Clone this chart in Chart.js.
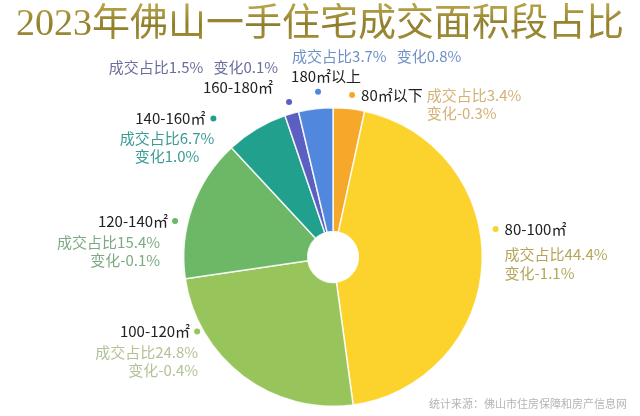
<!DOCTYPE html>
<html>
<head>
<meta charset="utf-8">
<script src="https://cdn.jsdelivr.net/npm/chart.js@4"></script>
<style>
  html, body { margin: 0; padding: 0; background: #ffffff; }
  #wrap { width: 640px; height: 416px; position: relative; }
</style>
</head>
<body>
<div id="wrap"><canvas id="pie-chart"></canvas></div>
<script>
// data
const titleText = '2023年佛山一手住宅成交面积段占比';
const sourceText = '统计来源：佛山市住房保障和房产信息网';
const areaLabels = ['80㎡以下', '80-100㎡', '100-120㎡', '120-140㎡', '140-160㎡', '160-180㎡', '180㎡以上'];
const shares = [3.4, 44.4, 24.8, 15.4, 6.7, 1.5, 3.7];
const changes = [-0.3, -1.1, -0.4, -0.1, 1.0, 0.1, 0.8];

const sliceColors = ['#f6a82a', '#fcd22d', '#98c45c', '#6cb866', '#22a08e', '#5b5fc2', '#5287de'];
const textColors = ['#d4b276', '#b5a55a', '#b4c298', '#7daa84', '#3a9c94', '#6a6f9e', '#6f90c6'];

// where each label sits relative to its slice (angle nudge in degrees, distance from centre)
const labelStyle = [
    { nudge: 0.6, dist: 163, mode: 'inlineRight' },
    { nudge: -12, dist: 165, mode: 'stackRight' },
    { nudge: 24.3, dist: 155, mode: 'stackLeft', nameGap: 7, dataGap: -1 },
    { nudge: -6.5, dist: 162, mode: 'stackLeft', nameGap: 7, dataGap: 15 },
    { nudge: -10, dist: 183, mode: 'stackLeftCentered', nameGap: 8, dataGap: -1 },
    { nudge: 0.2, dist: 161, mode: 'aboveLeft' },
    { nudge: 1.5, dist: 166, mode: 'aboveRight' }
];

function fmtShare(v) { return '成交占比' + v.toFixed(1) + '%'; }
function fmtChange(v) { return '变化' + v.toFixed(1) + '%'; }

const labelFont = '15px "Noto Sans CJK SC", "Noto Sans", sans-serif';

const labelPlugin = {
    id: 'pieLabels',
    afterDraw(chart) {
        const ctx = chart.ctx;
        const meta = chart.getDatasetMeta(0);
        ctx.save();

        // title
        ctx.font = '38px "Liberation Serif", "Noto Sans CJK SC", serif';
        ctx.textAlign = 'center';
        ctx.textBaseline = 'middle';
        const grad = ctx.createLinearGradient(0, 6, 0, 44);
        grad.addColorStop(0, '#b6a246');
        grad.addColorStop(0.5, '#8f7d2b');
        grad.addColorStop(1, '#a8943c');
        ctx.fillStyle = grad;
        ctx.fillText(titleText, 320, 25);

        ctx.font = labelFont;
        ctx.textBaseline = 'middle';
        meta.data.forEach((arc, i) => {
            const st = labelStyle[i];
            const mid = (arc.startAngle + arc.endAngle) / 2 + st.nudge * Math.PI / 180;
            const x = arc.x + Math.cos(mid) * st.dist;
            const y = arc.y + Math.sin(mid) * st.dist;

            ctx.fillStyle = sliceColors[i];
            ctx.beginPath();
            ctx.arc(x, y, 3, 0, Math.PI * 2);
            ctx.fill();

            const name = areaLabels[i];
            const l1 = fmtShare(shares[i]);
            const l2 = fmtChange(changes[i]);
            const col = textColors[i];

            if (st.mode === 'inlineRight') {
                ctx.textAlign = 'left';
                ctx.fillStyle = '#222';
                ctx.fillText(name, x + 9, y);
                const nx = x + 9 + ctx.measureText(name).width + 4;
                ctx.fillStyle = col;
                ctx.fillText(l1, nx, y);
                ctx.fillText(l2, nx, y + 18);
            } else if (st.mode === 'stackRight') {
                ctx.textAlign = 'left';
                ctx.fillStyle = '#222';
                ctx.fillText(name, x + 9, y);
                ctx.fillStyle = col;
                ctx.fillText(l1, x + 9, y + 25);
                ctx.fillText(l2, x + 9, y + 44);
            } else if (st.mode === 'stackLeft') {
                ctx.textAlign = 'right';
                ctx.fillStyle = '#222';
                ctx.fillText(name, x - st.nameGap, y);
                ctx.fillStyle = col;
                ctx.fillText(l1, x - st.dataGap, y + 21);
                ctx.fillText(l2, x - st.dataGap, y + 39);
            } else if (st.mode === 'stackLeftCentered') {
                ctx.textAlign = 'right';
                ctx.fillStyle = '#222';
                ctx.fillText(name, x - st.nameGap, y);
                ctx.fillStyle = col;
                ctx.fillText(l1, x - st.dataGap, y + 20);
                const w = ctx.measureText(l1).width;
                ctx.textAlign = 'center';
                ctx.fillText(l2, x - st.dataGap - w / 2, y + 38);
            } else if (st.mode === 'aboveLeft') {
                ctx.textAlign = 'right';
                ctx.fillStyle = '#222';
                ctx.fillText(name, x - 16, y - 15);
                ctx.fillStyle = col;
                ctx.fillText(l1 + '   ' + l2, x - 11, y - 35);
            } else if (st.mode === 'aboveRight') {
                ctx.textAlign = 'center';
                ctx.fillStyle = '#222';
                ctx.fillText(name, x + 8, y - 15);
                ctx.textAlign = 'left';
                ctx.fillStyle = col;
                ctx.fillText(l1 + '   ' + l2, x - 26, y - 35);
            }
        });

        // source note
        ctx.font = '11px "Noto Sans CJK SC", sans-serif';
        ctx.textAlign = 'right';
        ctx.fillStyle = '#b5b5b5';
        ctx.fillText(sourceText, 627, 404);
        ctx.restore();
    }
};

const config = {
    type: 'doughnut',
    data: {
        labels: areaLabels,
        datasets: [{
            data: shares,
            backgroundColor: sliceColors,
            borderColor: 'rgba(255,255,255,0.85)',
            borderWidth: 1.5
        }]
    },
    options: {
        responsive: true,
        maintainAspectRatio: false,
        animation: false,
        cutout: '17%',
        rotation: 0,
        layout: { padding: { top: 107, bottom: 9, left: 26, right: 0 } },
        plugins: {
            legend: { display: false },
            title: { display: false },
            tooltip: { enabled: false }
        }
    },
    plugins: [labelPlugin]
};

window.onload = function() {
    const ctx = document.getElementById('pie-chart').getContext('2d');
    window.myPie = new Chart(ctx, config);
};
</script>
</body>
</html>
